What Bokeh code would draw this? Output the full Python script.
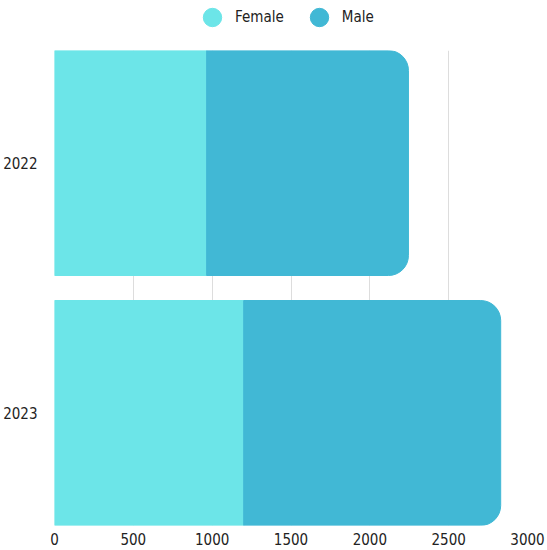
from bokeh.plotting import figure
from bokeh.layouts import column
from bokeh.models import Range1d, FixedTicker, Legend, LegendItem, ColumnDataSource
from bokeh.embed import file_html
from bokeh.resources import INLINE

# Headcount by year, split by gender
years = ["2022", "2023"]
female = [965, 1200]
male = [1280, 1630]
x_ticks = [0, 500, 1000, 1500, 2000, 2500, 3000]

FONT = "'DejaVu Sans Condensed', 'DejaVu Sans', sans-serif"
FEMALE_COLOR = "#6CE5E8"
MALE_COLOR = "#41B8D5"
TEXT_COLOR = "#222222"

pos = list(range(len(years)))
male_end = [f + m for f, m in zip(female, male)]
src = ColumnDataSource(dict(pos=pos, year=years, female=female, male_end=male_end))

# ---- main chart -------------------------------------------------------------
p = figure(
    width=547, height=500,
    output_backend="svg", toolbar_location=None,
    x_range=Range1d(0, 3000), y_range=Range1d(1.45, -0.45),
    min_border_left=54, min_border_right=20,
    min_border_top=0, min_border_bottom=25,
)
p.outline_line_color = None

# stacked horizontal bars, rounded at the outer end
p.hbar(y="pos", left=0, right="female", height=0.9, color=FEMALE_COLOR, source=src)
p.hbar(y="pos", left="female", right="male_end", height=0.9, color=MALE_COLOR,
       border_radius=(0, 20, 20, 0), source=src)

# grid
p.xgrid.ticker = FixedTicker(ticks=x_ticks)
p.xgrid.grid_line_color = "#dddddd"
p.xgrid.grid_line_width = 1
p.ygrid.visible = False

# x axis
p.xaxis.ticker = FixedTicker(ticks=x_ticks)
p.xaxis.axis_line_color = None
p.xaxis.major_tick_line_color = None
p.xaxis.minor_tick_line_color = None
p.xaxis.major_label_standoff = 1
p.xaxis.major_label_text_font = FONT
p.xaxis.major_label_text_font_size = "15px"
p.xaxis.major_label_text_color = TEXT_COLOR

# y axis with year labels
p.yaxis.ticker = FixedTicker(ticks=pos)
p.yaxis.major_label_overrides = {i: y for i, y in enumerate(years)}
p.yaxis.axis_line_color = None
p.yaxis.major_tick_line_color = None
p.yaxis.minor_tick_line_color = None
p.yaxis.major_label_standoff = 11
p.yaxis.major_label_text_font = FONT
p.yaxis.major_label_text_font_size = "15px"
p.yaxis.major_label_text_color = TEXT_COLOR

# ---- legend strip above the chart --------------------------------------------
lg = figure(
    width=547, height=50,
    output_backend="svg", toolbar_location=None,
    x_range=Range1d(0, 1), y_range=Range1d(0, 1),
    x_axis_type=None, y_axis_type=None,
    min_border=0,
)
lg.outline_line_color = None
lg.xgrid.visible = False
lg.ygrid.visible = False

# hidden markers that give the legend round swatches
r_f = lg.scatter(x="female", y="pos", marker="circle", color=FEMALE_COLOR, source=src, visible=False)
r_m = lg.scatter(x="male_end", y="pos", marker="circle", color=MALE_COLOR, source=src, visible=False)

legend = Legend(
    items=[LegendItem(label="Female", renderers=[r_f]), LegendItem(label="Male", renderers=[r_m])],
    orientation="horizontal", location=(135, 10),
    glyph_width=46, glyph_height=46, label_standoff=-3, spacing=12,
    padding=0, margin=0, border_line_color=None, background_fill_alpha=0,
    label_text_font=FONT, label_text_font_size="15px", label_text_color=TEXT_COLOR,
)
lg.add_layout(legend)

layout = column(lg, p, spacing=0)
open("out.html", "w").write(file_html(layout, INLINE))
